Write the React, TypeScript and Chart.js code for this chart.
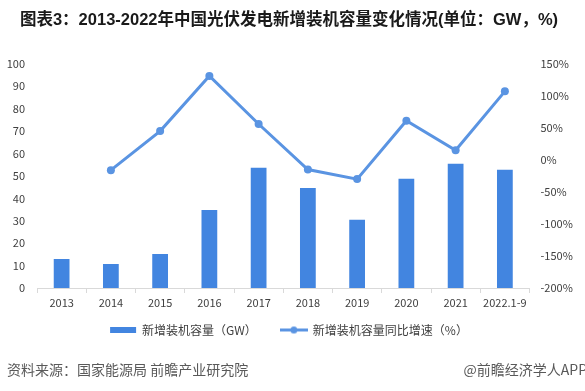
import { useEffect, useRef } from 'react';
import { Chart, registerables } from 'chart.js';

Chart.register(...registerables);

const categories = ['2013', '2014', '2015', '2016', '2017', '2018', '2019', '2020', '2021', '2022.1-9'];
const capacityGW = [12.9, 10.7, 15.2, 34.8, 53.6, 44.6, 30.4, 48.7, 55.4, 52.7];
const growthPct: (number | null)[] = [null, -16, 45, 131, 56, -15, -30, 61, 15, 107];

const leftAxisMin = 0;
const leftAxisMax = 100;
const leftAxisStep = 10;
const rightAxisMin = -200;
const rightAxisMax = 150;
const rightAxisStep = 50;

const titleText = '图表3：2013-2022年中国光伏发电新增装机容量变化情况(单位：GW，%)';
const barLabel = '新增装机容量（GW）';
const lineLabel = '新增装机容量同比增速（%）';
const sourceText = '资料来源：国家能源局 前瞻产业研究院';
const brandText = '@前瞻经济学人APP';

const BAR_COLOR = '#4285E0';
const LINE_COLOR = '#5A94E2';
const AXIS_COLOR = '#D9D9D9';
const TEXT_COLOR = '#404040';
const FONT = "'Noto Sans CJK SC', 'Liberation Sans', sans-serif";
const TITLE_FONT = "'Liberation Sans', 'Noto Sans CJK SC', sans-serif";

const footerPlugin = {
  id: 'footerText',
  afterDraw(chart: any) {
    const ctx = chart.ctx;
    ctx.save();
    ctx.font = `14px ${FONT}`;
    ctx.fillStyle = '#595959';
    ctx.textBaseline = 'middle';
    ctx.textAlign = 'left';
    ctx.fillText(sourceText, 7, 370);
    ctx.textAlign = 'right';
    ctx.fillText(brandText, 587, 370);
    ctx.restore();
  },
};

// The x axis is fitted compactly so the legend sits close; widen its label clip box afterwards.
const xLabelRoomPlugin = {
  id: 'xLabelRoom',
  afterLayout(chart: any) {
    const x = chart.scales.x;
    if (x) {
      x.height = 26;
      x.bottom = x.top + 26;
    }
  },
};

function makeLineLegendIcon(): HTMLCanvasElement {
  const c = document.createElement('canvas');
  c.width = 28;
  c.height = 9;
  const g = c.getContext('2d')!;
  g.strokeStyle = LINE_COLOR;
  g.lineWidth = 3;
  g.beginPath();
  g.moveTo(0, 4.5);
  g.lineTo(28, 4.5);
  g.stroke();
  g.fillStyle = LINE_COLOR;
  g.beginPath();
  g.arc(14, 4.5, 3.5, 0, Math.PI * 2);
  g.fill();
  return c;
}

export default function App() {
  const canvasRef = useRef<HTMLCanvasElement | null>(null);

  useEffect(() => {
    if (!canvasRef.current) return;
    const lineIcon = makeLineLegendIcon();
    const chart = new Chart(canvasRef.current, {
      type: 'bar',
      data: {
        labels: categories,
        datasets: [
          {
            type: 'line',
            label: lineLabel,
            data: growthPct,
            yAxisID: 'y1',
            borderColor: LINE_COLOR,
            backgroundColor: LINE_COLOR,
            borderWidth: 3,
            pointRadius: 4,
            pointBorderWidth: 0,
            pointBackgroundColor: LINE_COLOR,
            tension: 0,
            spanGaps: false,
            order: 0,
          } as any,
          {
            type: 'bar',
            label: barLabel,
            data: capacityGW,
            yAxisID: 'y',
            backgroundColor: BAR_COLOR,
            borderWidth: 0,
            categoryPercentage: 1,
            barPercentage: 0.32,
            order: 1,
          } as any,
        ],
      },
      options: {
        responsive: false,
        animation: false,
        devicePixelRatio: 1,
        layout: { padding: { top: 0, left: 0, right: 7, bottom: 45 } },
        plugins: {
          title: {
            display: true,
            text: titleText,
            color: '#1A1A1A',
            font: { family: TITLE_FONT, size: 16.5, weight: 'bold' },
            padding: { top: 11, bottom: 33 },
          },
          legend: {
            position: 'bottom',
            labels: {
              usePointStyle: true,
              pointStyleWidth: 26,
              boxHeight: 6,
              padding: 24,
              color: TEXT_COLOR,
              font: { family: FONT, size: 12 },
              sort: (a: any, b: any) => b.datasetIndex - a.datasetIndex,
              generateLabels: (c: any) => {
                const items = (Chart.defaults.plugins.legend.labels as any).generateLabels(c);
                items.forEach((it: any) => {
                  if (it.datasetIndex === 1) {
                    it.pointStyle = 'rect';
                    it.lineWidth = 0;
                    it.fillStyle = BAR_COLOR;
                  } else {
                    it.pointStyle = lineIcon;
                  }
                });
                return items;
              },
            },
          },
          tooltip: { enabled: false },
        },
        scales: {
          x: {
            afterFit: (s: any) => {
              s.height = 12;
            },
            border: { display: true, color: AXIS_COLOR, width: 1 },
            grid: {
              display: true,
              offset: true,
              drawOnChartArea: false,
              drawTicks: true,
              tickLength: 5,
              color: AXIS_COLOR,
            },
            ticks: {
              color: TEXT_COLOR,
              font: { family: FONT, size: 11 },
              padding: 3,
              maxRotation: 0,
              autoSkip: false,
            },
          },
          y: {
            position: 'left',
            min: leftAxisMin,
            max: leftAxisMax,
            afterFit: (s: any) => {
              s.width = 37;
            },
            border: { display: false },
            grid: { display: false, drawTicks: false },
            ticks: {
              stepSize: leftAxisStep,
              color: TEXT_COLOR,
              padding: 12,
              font: { family: FONT, size: 11 },
            },
          },
          y1: {
            position: 'right',
            min: rightAxisMin,
            max: rightAxisMax,
            afterFit: (s: any) => {
              s.width = 48.5;
            },
            border: { display: false },
            grid: { display: false, drawTicks: false },
            ticks: {
              stepSize: rightAxisStep,
              color: TEXT_COLOR,
              padding: 11,
              font: { family: FONT, size: 11 },
              callback: (v: any) => `${v}%`,
            },
          },
        },
      },
      plugins: [xLabelRoomPlugin, footerPlugin],
    });
    return () => chart.destroy();
  }, []);

  return (
    <div style={{ position: 'fixed', left: 0, top: 0, width: 585, height: 391, background: '#fff' }}>
      <canvas ref={canvasRef} width={585} height={391} />
    </div>
  );
}
